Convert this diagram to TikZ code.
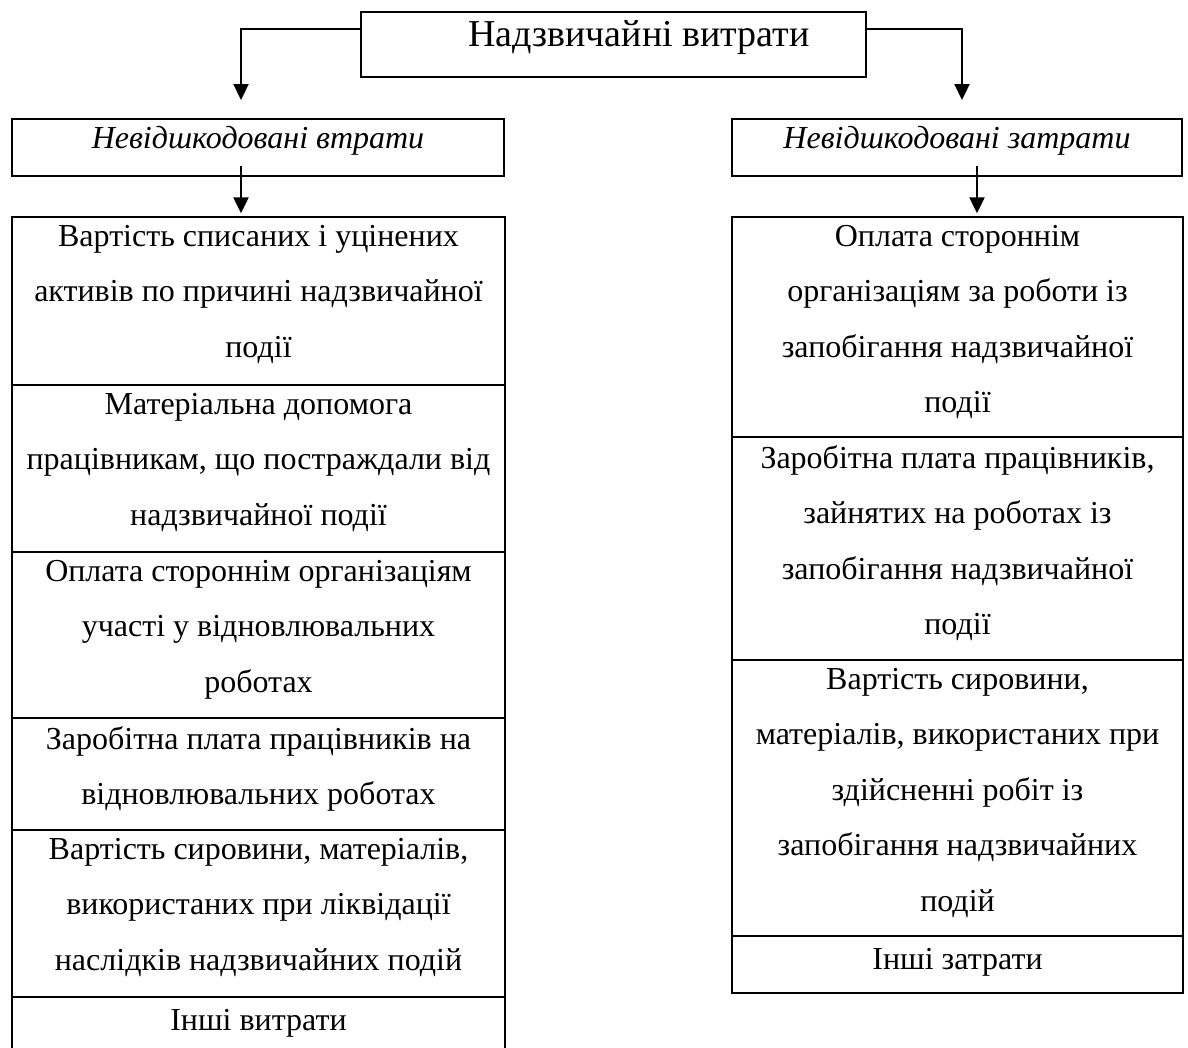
\documentclass[tikz,border=0pt]{standalone}
\usepackage{fontspec}
\setmainfont{Liberation Serif}
\usetikzlibrary{arrows.meta}
\newcommand\cellstrut{\rule{0pt}{26pt}}
\begin{document}
\begin{tikzpicture}[x=1pt,y=-1pt,
  boxline/.style={line width=2.6pt},
  rowline/.style={line width=2pt},
  arr/.style={line width=2.3pt, -{Triangle[length=16pt,width=15pt]}},
  headbox/.style={draw, boxline, inner sep=0pt},
  celltext/.style={anchor=north, inner sep=0pt, align=center,
    font=\fontsize{32}{55.5}\selectfont, execute at begin node=\cellstrut},
  headtext/.style={anchor=base, inner sep=0pt, font=\itshape\fontsize{32}{40}\selectfont}]
\fill[white] (0,0) rectangle (1188,1047);
\useasboundingbox (0,0) rectangle (1188,1047);

% title
\node[headbox, minimum width=505pt, minimum height=65pt] (top) at (613.5,44.5) {};
\node[anchor=base, inner sep=0pt, font=\fontsize{38}{42}\selectfont] (toptxt) at (639,46) {Надзвичайні витрати};

% second level
\node[headbox, minimum width=492pt, minimum height=57pt] (b2l) at (258,147.5) {};
\node[headtext] (b2ltxt) at (258,148) {Невідшкодовані втрати};
\node[headbox, minimum width=450pt, minimum height=57pt] (b2r) at (957,147.5) {};
\node[headtext] (b2rtxt) at (957,148) {Невідшкодовані затрати};

\coordinate (ltip) at (241,100);
\coordinate (rtip) at (962,100);
\draw[arr] ([yshift=15.5pt]top.west) -| (ltip);
\draw[arr] ([yshift=15.5pt]top.east) -| (rtip);
\draw[arr] ([xshift=-17pt,yshift=11pt]b2l.south) -- ++(0,47);
\draw[arr] ([xshift=20pt,yshift=11pt]b2r.south) -- ++(0,47);

% left list
\draw[boxline] (12,1052) -- (12,217) -- (505,217) -- (505,1052);
\foreach \yy in {385,552,718,830,997}
  \draw[rowline] (12,\yy) -- (505,\yy);
\node[celltext] (l1) at (258.5,225) {Вартість списаних і уцінених\\активів по причині надзвичайної\\події};
\node[celltext] (l2) at (258.5,393) {Матеріальна допомога\\працівникам, що постраждали від\\надзвичайної події};
\node[celltext] (l3) at (258.5,560) {Оплата стороннім організаціям\\участі у відновлювальних\\роботах};
\node[celltext] (l4) at (258.5,726) {Заробітна плата працівників на\\відновлювальних роботах};
\node[celltext] (l5) at (258.5,838) {Вартість сировини, матеріалів,\\використаних при ліквідації\\наслідків надзвичайних подій};
\node[celltext] (l6) at (258.5,1004) {Інші витрати};

% right list
\draw[boxline] (732,217) rectangle (1183,993);
\foreach \yy in {437,660,936}
  \draw[rowline] (732,\yy) -- (1183,\yy);
\node[celltext] (r1) at (957.5,225) {Оплата стороннім\\організаціям за роботи із\\запобігання надзвичайної\\події};
\node[celltext] (r2) at (957.5,445) {Заробітна плата працівників,\\зайнятих на роботах із\\запобігання надзвичайної\\події};
\node[celltext] (r3) at (957.5,668) {Вартість сировини,\\матеріалів, використаних при\\здійсненні робіт із\\запобігання надзвичайних\\подій};
\node[celltext] (r4) at (957.5,943) {Інші затрати};
\end{tikzpicture}
\end{document}
